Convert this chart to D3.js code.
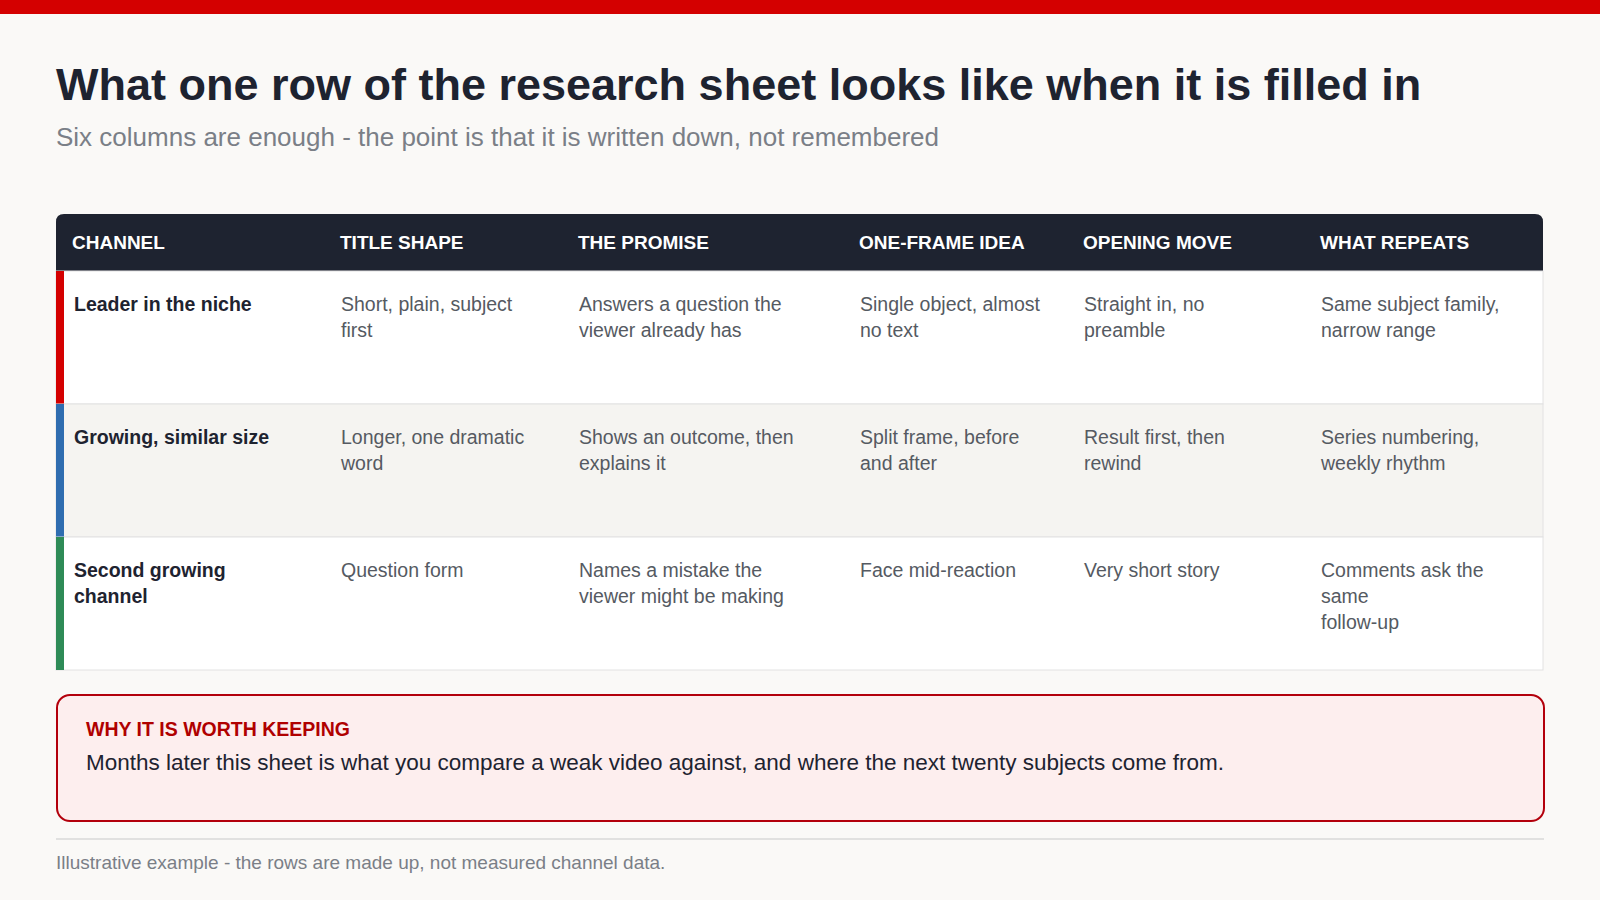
<!DOCTYPE html>
<html><head><meta charset="utf-8">
<script src="https://cdn.jsdelivr.net/npm/d3@7"></script>
<style>body{margin:0;background:#faf9f7;}svg{display:block;font-family:"Liberation Sans",Arial,sans-serif;}</style>
</head><body>
<svg id="c" width="1600" height="900"></svg>
<script>
const columns = ["CHANNEL","TITLE SHAPE","THE PROMISE","ONE-FRAME IDEA","OPENING MOVE","WHAT REPEATS"];
const channels = ["Leader in the niche","Growing, similar size","Second growing channel"];
const channelColors = ["#d40000","#2f6db0","#2e8b57"];
const rows = [
 [["Leader in the niche"],["Short, plain, subject","first"],["Answers a question the","viewer already has"],["Single object, almost","no text"],["Straight in, no","preamble"],["Same subject family,","narrow range"]],
 [["Growing, similar size"],["Longer, one dramatic","word"],["Shows an outcome, then","explains it"],["Split frame, before","and after"],["Result first, then","rewind"],["Series numbering,","weekly rhythm"]],
 [["Second growing","channel"],["Question form"],["Names a mistake the","viewer might be making"],["Face mid-reaction"],["Very short story"],["Comments ask the","same","follow-up"]]
];
const svg = d3.select("#c");
const W=1600;
svg.append("rect").attr("width",W).attr("height",900).attr("fill","#faf9f7");
svg.append("rect").attr("width",W).attr("height",14).attr("fill","#d40000");
svg.append("text").attr("x",56).attr("y",100).attr("font-size",45).attr("font-weight","bold").attr("fill","#1e2330")
 .text("What one row of the research sheet looks like when it is filled in");
svg.append("text").attr("x",56).attr("y",146).attr("font-size",26).attr("fill","#7a7f87")
 .text("Six columns are enough - the point is that it is written down, not remembered");

const tx0=56, tx1=1543, hy0=214, hy1=271, rowH=133;
const colX = d3.scaleOrdinal().domain(columns).range([72,340,578,859,1083,1320]);
const y = d3.scaleBand().domain(channels).range([hy1, hy1+rowH*3]);
// header
svg.append("path").attr("d",`M${tx0},${hy1}V${hy0+8}Q${tx0},${hy0} ${tx0+8},${hy0}H${tx1-8}Q${tx1},${hy0} ${tx1},${hy0+8}V${hy1}Z`).attr("fill","#1e2330");
svg.selectAll(".h").data(columns).join("text").attr("x",d=>colX(d)).attr("y",249)
 .attr("font-size",19).attr("font-weight","bold").attr("fill","#fff").text(d=>d);
// rows
const g = svg.selectAll(".row").data(rows).join("g").attr("transform",(d,i)=>`translate(0,${y(channels[i])})`);
g.append("rect").attr("x",tx0).attr("width",tx1-tx0).attr("height",y.bandwidth())
 .attr("fill",(d,i)=>i===1?"#f5f4f1":"#ffffff").attr("stroke","#e2e2e2");
g.append("rect").attr("x",tx0).attr("width",8).attr("height",y.bandwidth()).attr("fill",(d,i)=>channelColors[i]);
g.each(function(r){
  const gg=d3.select(this);
  r.forEach((cell,ci)=>{
    const t=gg.append("text").attr("x",colX(columns[ci])+(ci===0?2:1)).attr("y",40)
      .attr("font-size",19.5).attr("fill",ci===0?"#1e2330":"#555a62").attr("font-weight",ci===0?"bold":"normal");
    cell.forEach((ln,li)=>t.append("tspan").attr("x",colX(columns[ci])+(ci===0?2:1)).attr("dy",li?26:0).text(ln));
  });
});
// callout
svg.append("rect").attr("x",57).attr("y",695).attr("width",1487).attr("height",126).attr("rx",13)
 .attr("fill","#fdeeee").attr("stroke","#b3000c").attr("stroke-width",2);
svg.append("text").attr("x",86).attr("y",736).attr("font-size",19.5).attr("font-weight","bold").attr("fill","#b00000").text("WHY IT IS WORTH KEEPING");
svg.append("text").attr("x",86).attr("y",770).attr("font-size",22.5).attr("fill","#1e2330")
 .text("Months later this sheet is what you compare a weak video against, and where the next twenty subjects come from.");
svg.append("line").attr("x1",56).attr("x2",1544).attr("y1",839).attr("y2",839).attr("stroke","#d8d8d8").attr("stroke-width",1.5);
svg.append("text").attr("x",56).attr("y",869).attr("font-size",19).attr("fill","#7a7f87")
 .text("Illustrative example - the rows are made up, not measured channel data.");
</script></body></html>
